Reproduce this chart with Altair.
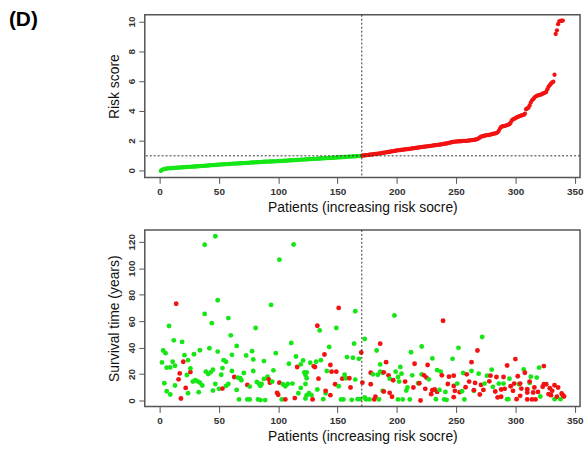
import altair as alt
import pandas as pd

# ---------------- data: risk score (sorted) ----------------
risk_low = [
    -0.05, 0.02, 0.06, 0.09, 0.10, 0.11, 0.12, 0.13, 0.13, 0.14,
    0.15, 0.15, 0.16, 0.17, 0.17, 0.18, 0.18, 0.19, 0.19, 0.20,
    0.21, 0.21, 0.22, 0.22, 0.23, 0.23, 0.24, 0.24, 0.25, 0.25,
    0.26, 0.27, 0.27, 0.28, 0.28, 0.29, 0.30, 0.30, 0.31, 0.31,
    0.32, 0.33, 0.33, 0.34, 0.34, 0.35, 0.36, 0.36, 0.37, 0.38,
    0.38, 0.39, 0.39, 0.40, 0.40, 0.41, 0.41, 0.42, 0.42, 0.43,
    0.43, 0.44, 0.44, 0.45, 0.45, 0.46, 0.46, 0.47, 0.47, 0.48,
    0.48, 0.49, 0.49, 0.50, 0.50, 0.51, 0.51, 0.52, 0.52, 0.53,
    0.53, 0.54, 0.54, 0.55, 0.55, 0.56, 0.56, 0.57, 0.57, 0.58,
    0.58, 0.58, 0.59, 0.59, 0.59, 0.60, 0.60, 0.60, 0.61, 0.61,
    0.62, 0.62, 0.63, 0.63, 0.64, 0.64, 0.65, 0.65, 0.66, 0.66,
    0.67, 0.67, 0.68, 0.68, 0.69, 0.69, 0.70, 0.70, 0.71, 0.71,
    0.72, 0.72, 0.73, 0.73, 0.74, 0.74, 0.75, 0.75, 0.76, 0.76,
    0.77, 0.77, 0.78, 0.78, 0.79, 0.79, 0.80, 0.80, 0.80, 0.81,
    0.81, 0.82, 0.82, 0.83, 0.83, 0.84, 0.84, 0.85, 0.85, 0.86,
    0.86, 0.87, 0.87, 0.88, 0.88, 0.89, 0.90, 0.90, 0.91, 0.91,
    0.92, 0.92, 0.93, 0.93, 0.94, 0.94, 0.95, 0.95, 0.96, 0.97,
]
risk_high = [
    0.98, 0.99, 1.00, 1.01, 1.02, 1.03, 1.04, 1.05, 1.06, 1.07,
    1.08, 1.09, 1.10, 1.11, 1.12, 1.14, 1.15, 1.16, 1.18, 1.19,
    1.20, 1.22, 1.23, 1.24, 1.26, 1.27, 1.28, 1.30, 1.31, 1.33,
    1.34, 1.35, 1.36, 1.37, 1.38, 1.39, 1.40, 1.41, 1.42, 1.43,
    1.44, 1.45, 1.47, 1.48, 1.49, 1.50, 1.51, 1.52, 1.54, 1.55,
    1.56, 1.57, 1.58, 1.59, 1.60, 1.61, 1.62, 1.63, 1.64, 1.66,
    1.67, 1.68, 1.69, 1.70, 1.71, 1.72, 1.73, 1.74, 1.76, 1.78,
    1.79, 1.80, 1.82, 1.84, 1.86, 1.88, 1.90, 1.91, 1.92, 1.93,
    1.94, 1.94, 1.95, 1.95, 1.96, 1.97, 1.97, 1.98, 1.98, 1.99,
    2.00, 2.01, 2.02, 2.03, 2.04, 2.05, 2.07, 2.10, 2.14, 2.20,
    2.25, 2.28, 2.30, 2.32, 2.34, 2.36, 2.37, 2.38, 2.40, 2.42,
    2.44, 2.46, 2.48, 2.50, 2.55, 2.65, 2.80, 2.92, 2.94, 2.96,
    2.98, 3.00, 3.03, 3.06, 3.10, 3.20, 3.35, 3.42, 3.45, 3.50,
    3.55, 3.58, 3.62, 3.65, 3.68, 3.70, 3.72, 3.80, 4.10, 4.15,
    4.20, 4.35, 4.55, 4.70, 4.78, 4.88, 4.95, 5.00, 5.03, 5.05,
    5.08, 5.10, 5.14, 5.18, 5.22, 5.26, 5.45, 5.62, 5.72, 5.82,
    5.90, 5.95, 6.42, 9.16, 9.40, 9.82, 10.00, 10.04, 10.05, 10.06,
]
risk_score = risk_low + risk_high
risk_patient = list(range(1, len(risk_score) + 1))
risk_group = ["low"] * len(risk_low) + ["high"] * len(risk_high)

cutoff_patient = [170.5]
cutoff_risk = [0.97]

# ---------------- data: survival ----------------
surv_patient = [
    2, 3, 4, 5, 6, 6, 8, 9, 9, 11, 12, 13, 13, 14, 16, 17, 18, 19, 20, 21,
    22, 23, 24, 24, 26, 26, 28, 29, 30, 32, 33, 34, 34, 36, 38, 38, 39, 41, 42, 43,
    44, 45, 45, 47, 47, 49, 49, 50, 52, 53, 53, 54, 56, 56, 58, 58, 60, 61, 61, 63,
    65, 65, 66, 67, 68, 69, 71, 73, 74, 74, 76, 76, 78, 79, 79, 81, 82, 83, 84, 85,
    85, 86, 88, 88, 89, 91, 92, 93, 94, 95, 96, 98, 99, 100, 101, 101, 103, 104, 106, 106,
    108, 109, 111, 112, 113, 114, 115, 116, 117, 119, 119, 121, 122, 123, 123, 124,
    123, 124, 124, 126, 127, 128, 129, 130, 131, 132, 133, 133, 134, 135, 136, 138, 139, 140,
    140, 141, 143, 144, 144, 145, 148, 149, 149, 151, 151, 153, 154, 155, 156, 157, 158, 160,
    161, 162, 163, 164, 165, 165, 167, 168, 169, 170, 171, 173, 173, 174, 177, 178, 178, 180,
    181, 182, 183, 184, 185, 186, 186, 186,
    188, 188, 189, 189, 191, 193, 194, 194, 196, 197, 198, 199, 201, 201, 202, 203, 204, 205,
    207, 208, 209, 211, 212, 213, 214, 215, 218, 219, 220, 221, 221, 223, 224, 225, 226, 227,
    229, 230, 230, 232, 233, 234, 234, 236, 237, 238, 239, 240, 241, 242, 243, 244, 247, 248,
    248, 248, 249, 251, 252, 253, 255, 256, 257, 258, 259, 261, 263, 263, 265, 265, 266, 268,
    269, 270, 271, 272, 273, 274, 276, 278, 279, 280, 281, 283, 284, 285, 286, 288, 288, 290,
    290, 291, 293, 293, 294, 295, 296, 298, 299, 300, 301, 302, 303, 304, 304, 305, 307, 308,
    310, 310, 312, 310, 312, 313, 314, 315, 316, 317, 318, 319, 320, 321, 323, 324, 324, 326,
    328, 329, 330, 331, 333, 333, 335, 336, 338, 339, 340, 341,
]
surv_time = [
    28.8, 37.8, 13.0, 35.8, 24.8, 7.0, 56.3, 25.0, 4.5, 29.3, 45.5, 26.3, 11.3, 73.2, 16.0, 20.5, 1.5, 44.3, 29.3, 34.3,
    9.5, 19.3, 30.5, 5.5, 21.5, 24.3, 14.3, 35.0, 15.3, 14.5, 6.3, 38.0, 13.5, 11.3, 117.8, 65.5, 21.8, 20.0, 39.5, 21.3,
    58.5, 23.3, 7.5, 12.5, 124.2, 75.8, 37.0, 8.8, 19.5, 24.5, 9.0, 30.5, 11.0, 29.3, 12.5, 62.3, 49.3, 22.3, 34.5, 17.8,
    41.3, 8.0, 17.3, 0.8, 16.8, 15.3, 20.8, 34.0, 0.8, 11.8, 0.8, 10.5, 37.3, 31.0, 22.3, 54.8, 14.0, 0.8, 12.5, 0.3,
    11.0, 12.5, 16.3, 29.8, 0.3, 18.0, 16.0, 13.5, 72.3, 14.3, 22.8, 35.8, 5.8, 4.3, 106.5, 13.5, 0.8, 12.3, 10.8, 0.8,
    12.5, 27.8, 43.5, 12.8, 118.0, 1.8, 33.3, 25.3, 5.5, 27.3, 9.5, 30.3, 21.3, 19.3, 1.5, 4.0,
    12.5, 16.8, 21.3, 5.5, 28.5, 4.0, 0.8, 25.8, 25.3, 29.3, 56.5, 8.3, 16.5, 53.0, 30.5, 1.0, 34.8, 5.5,
    7.3, 22.3, 40.5, 4.0, 26.8, 21.8, 12.3, 54.8, 21.8, 10.8, 70.0, 0.8, 16.5, 0.8, 19.5, 16.8, 32.8, 16.8,
    9.8, 0.5, 32.3, 43.0, 15.8, 67.5, 1.0, 31.5, 1.0, 36.3, 13.5, 46.5, 2.3, 0.8, 0.8, 21.0, 12.3, 19.8,
    0.8, 2.8, 37.8, 19.5, 0.8, 27.3, 43.0, 21.8,
    7.3, 21.0, 21.3, 6.8, 29.0, 19.0, 16.5, 5.8, 2.8, 15.3, 64.3, 21.8, 0.8, 17.8, 14.3, 25.3, 20.3, 0.8,
    14.3, 7.5, 9.8, 0.8, 36.5, 19.0, 9.8, 27.8, 13.0, 13.0, 0.0, 19.8, 40.8, 19.0, 8.8, 17.3, 26.8, 16.0,
    4.8, 7.8, 31.8, 8.3, 1.0, 6.5, 23.0, 8.0, 21.8, 19.0, 60.3, 0.8, 6.5, 0.5, 12.5, 18.0, 31.5, 18.8,
    2.5, 11.0, 7.3, 12.8, 39.8, 6.3, 7.0, 20.8, 0.8, 10.0, 19.8, 14.3, 22.3, 29.0, 7.3, 7.8, 13.3, 37.8,
    20.3, 4.5, 11.8, 48.0, 8.0, 12.8, 18.8, 14.5, 18.8, 23.3, 10.3, 6.8, 17.8, 2.3, 12.8, 8.3, 2.8, 17.8,
    12.8, 8.8, 1.0, 26.5, 1.0, 16.5, 10.8, 7.3, 12.8, 31.3, 1.0, 18.3, 12.3, 12.8, 3.5, 9.0, 23.5, 21.0,
    8.5, 0.8, 13.3, 6.0, 14.3, 18.0, 0.8, 6.0, 9.8, 0.8, 17.3, 6.5, 24.8, 3.0, 10.3, 12.3, 26.0, 12.3,
    4.8, 9.3, 4.0, 7.3, 1.0, 11.5, 2.8, 9.8, 1.0, 5.3, 4.0, 3.0,
]
surv_status = [
    "G", "G", "G", "G", "G", "G", "G", "G", "G", "G", "G", "G", "G", "R", "R", "R", "R", "G", "R", "G",
    "R", "G", "G", "G", "R", "G", "G", "G", "G", "G", "G", "G", "G", "G", "G", "G", "G", "G", "G", "G",
    "G", "G", "G", "G", "G", "G", "G", "G", "G", "G", "R", "G", "G", "G", "G", "G", "G", "G", "G", "R",
    "G", "G", "G", "G", "G", "G", "G", "G", "G", "R", "G", "G", "G", "G", "G", "G", "G", "G", "G", "G",
    "G", "G", "G", "G", "G", "G", "R", "R", "G", "G", "G", "G", "R", "R", "G", "R", "G", "G", "G", "R",
    "G", "G", "G", "G", "G", "R", "G", "R", "G", "G", "G", "G", "G", "G", "G", "G",
    "G", "G", "G", "G", "G", "G", "R", "R", "R", "G", "R", "G", "R", "G", "G", "G", "R", "G",
    "R", "G", "G", "R", "R", "R", "R", "G", "R", "G", "R", "G", "R", "G", "G", "G", "G", "R",
    "R", "G", "G", "G", "G", "G", "G", "G", "G", "R", "R", "G", "G", "G", "G", "R", "R", "G",
    "R", "R", "G", "G", "G", "G", "R", "G",
    "G", "G", "R", "R", "R", "R", "G", "R", "R", "R", "G", "G", "G", "G", "G", "G", "G", "G",
    "R", "G", "G", "G", "G", "G", "R", "R", "G", "R", "R", "G", "G", "R", "R", "R", "R", "G",
    "R", "R", "G", "R", "G", "R", "G", "G", "G", "R", "R", "G", "G", "G", "R", "R", "G", "R",
    "R", "R", "R", "G", "G", "R", "G", "G", "G", "R", "R", "R", "G", "R", "G", "R", "R", "R",
    "G", "R", "R", "G", "R", "G", "G", "R", "R", "G", "G", "R", "R", "R", "G", "R", "R", "R",
    "G", "R", "G", "R", "G", "G", "R", "R", "R", "R", "R", "R", "G", "R", "R", "R", "G", "R",
    "R", "R", "G", "R", "R", "G", "R", "R", "R", "R", "G", "R", "G", "G", "R", "R", "R", "R",
    "R", "R", "R", "R", "G", "R", "R", "R", "G", "R", "R", "R",
]

# ---------------- styling ----------------
GREEN = "#16e616"
RED = "#f21212"
FONT = "Liberation Sans"
x_ticks = [0, 50, 100, 150, 200, 250, 300, 350]
x_scale = alt.Scale(domain=[-12.5, 354.5], nice=False, zero=False)

risk_df = pd.DataFrame({"patient": risk_patient, "risk": risk_score, "group": risk_group})
surv_df = pd.DataFrame({"patient": surv_patient, "time": surv_time, "status": surv_status})
vline_df = pd.DataFrame({"patient": cutoff_patient})
hline_df = pd.DataFrame({"risk": cutoff_risk})
label_df = pd.DataFrame({"label": ["(D)"]})

x_axis = alt.Axis(values=x_ticks, title="Patients (increasing risk socre)",
                  labelPadding=3, titlePadding=4, labelOverlap=False)
risk_axis = alt.Axis(values=[0, 2, 4, 6, 8, 10], title="Risk score", titleY=72,
                     labelOverlap=False)
surv_axis = alt.Axis(values=[0, 20, 40, 60, 80, 100, 120], title="Survival time (years)",
                     labelOverlap=False)
risk_y_scale = alt.Scale(domain=[-0.48, 10.45], nice=False, zero=False)

top_points = alt.Chart(risk_df).mark_circle(size=19, opacity=1).encode(
    x=alt.X("patient:Q", scale=x_scale, axis=x_axis),
    y=alt.Y("risk:Q", scale=risk_y_scale, axis=risk_axis),
    color=alt.Color("group:N", scale=alt.Scale(domain=["low", "high"], range=[GREEN, RED]),
                    legend=None),
)
top_h = alt.Chart(hline_df).mark_rule(color="#333", strokeDash=[2, 2], strokeWidth=1).encode(
    y=alt.Y("risk:Q", scale=risk_y_scale, axis=risk_axis))
top_v = alt.Chart(vline_df).mark_rule(color="#333", strokeDash=[2, 2], strokeWidth=1).encode(
    x=alt.X("patient:Q", scale=x_scale, axis=x_axis))
panel_label = alt.Chart(label_df).mark_text(
    align="left", baseline="top", font=FONT, fontSize=21, fontWeight="bold", color="#000"
).encode(text="label:N", x=alt.value(-137), y=alt.value(-6))

top = alt.layer(top_points, top_h, top_v, panel_label).properties(width=439, height=164)

bottom_points = alt.Chart(surv_df).mark_circle(size=24, opacity=1).encode(
    x=alt.X("patient:Q", scale=x_scale, axis=x_axis),
    y=alt.Y("time:Q", scale=alt.Scale(domain=[-4.5, 129], nice=False, zero=False),
            axis=surv_axis),
    color=alt.Color("status:N", scale=alt.Scale(domain=["G", "R"], range=[GREEN, RED]),
                    legend=None),
)
bottom_v = alt.Chart(vline_df).mark_rule(color="#333", strokeDash=[2, 2], strokeWidth=1).encode(
    x=alt.X("patient:Q", scale=x_scale, axis=x_axis))
bottom = alt.layer(bottom_points, bottom_v).properties(width=439, height=178)

chart = alt.vconcat(top, bottom, spacing=13).properties(
    padding={"left": 8, "top": 6, "right": 0, "bottom": 0}
).configure_view(
    stroke="#555", strokeWidth=1.5
).configure_axis(
    domain=False, grid=False, ticks=True, tickColor="#555", tickSize=6, tickWidth=1,
    labelOverlap=False,
    labelFont=FONT, labelFontSize=10, labelColor="#333", labelFontWeight="bold",
    titleFont=FONT, titleFontSize=14, titleFontWeight="normal", titleColor="#111",
).configure_axisY(
    labelAngle=-90, labelAlign="center", labelBaseline="bottom", labelPadding=2, titlePadding=5,
).configure_scale(
    continuousPadding=0
)

chart.save("out.html", embed_options={"renderer": "svg", "actions": False})
